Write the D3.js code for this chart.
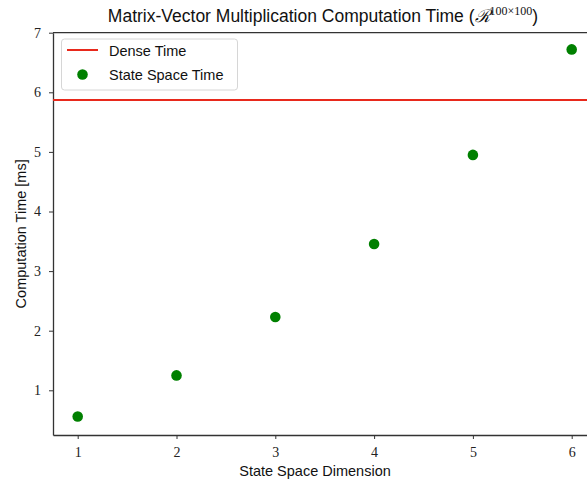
<!DOCTYPE html>
<html>
<head>
<meta charset="utf-8">
<script src="https://cdn.jsdelivr.net/npm/d3@7"></script>
<style>
  html, body { margin: 0; padding: 0; background: #fff; }
  svg { display: block; }
</style>
</head>
<body>
<div id="chart"></div>
<script>
// State space dimension vs. time for one matrix-vector product
const dimensions = [1, 2, 3, 4, 5, 6];
const stateSpaceTimes = [0.56, 1.25, 2.23, 3.455, 4.95, 6.72];
const denseTime = 5.87;
const xTicks = [1, 2, 3, 4, 5, 6];
const yTicks = [1, 2, 3, 4, 5, 6, 7];
const legendLabels = ["Dense Time", "State Space Time"];

const W = 587, H = 482;
const margin = { left: 53, top: 32.7, right: -9.4, bottom: 47 };
const green = "#008000", red = "#e8291c", axisColor = "#333";

const svg = d3.select("#chart").append("svg")
  .attr("width", W).attr("height", H);

const x = d3.scaleLinear().domain([0.75, 6.25])
  .range([margin.left, W - margin.right]);
const y = d3.scaleLinear().domain([0.25, 7])
  .range([H - margin.bottom, margin.top]);

const serif = "'Liberation Serif', 'DejaVu Serif', serif";
const sans = "'Liberation Sans', Arial, sans-serif";

// Axes
const xAxis = svg.append("g")
  .attr("transform", `translate(0,${H - margin.bottom})`)
  .call(d3.axisBottom(x).tickValues(xTicks).tickSizeInner(4).tickSizeOuter(0)
    .tickPadding(8).tickFormat(d3.format("d")));
const yAxis = svg.append("g")
  .attr("transform", `translate(${margin.left},0)`)
  .call(d3.axisLeft(y).tickValues(yTicks).tickSizeInner(4).tickSizeOuter(0)
    .tickPadding(8).tickFormat(d3.format("d")));

[xAxis, yAxis].forEach(g => {
  g.select(".domain").attr("stroke", axisColor).attr("stroke-width", 1.3);
  g.selectAll(".tick line").attr("stroke", axisColor).attr("stroke-width", 1);
  g.selectAll(".tick text").attr("fill", "#222")
    .style("font-family", serif).style("font-size", "14px");
});

// Top spine
svg.append("line")
  .attr("x1", margin.left).attr("x2", W - margin.right)
  .attr("y1", y(7)).attr("y2", y(7))
  .attr("stroke", axisColor).attr("stroke-width", 1.3);

// Dense reference line
svg.append("line")
  .attr("x1", margin.left).attr("x2", W - margin.right)
  .attr("y1", y(denseTime)).attr("y2", y(denseTime))
  .attr("stroke", red).attr("stroke-width", 2);

// State space points
svg.append("g").selectAll("circle")
  .data(dimensions.map((d, i) => ({ d, t: stateSpaceTimes[i] })))
  .join("circle")
  .attr("cx", p => x(p.d)).attr("cy", p => y(p.t))
  .attr("r", 5.3).attr("fill", green);

// Title
const title = svg.append("text")
  .attr("x", 323).attr("y", 22)
  .attr("text-anchor", "middle")
  .style("font-family", sans).style("font-size", "17.5px").attr("fill", "#111");
title.append("tspan").text("Matrix-Vector Multiplication Computation Time (");
title.append("tspan").style("font-family", serif).style("font-style", "italic").text("\u211B");
title.append("tspan").attr("dy", -7).style("font-family", serif).style("font-size", "12px").text("100\u00D7100");
title.append("tspan").attr("dy", 7).text(")");

// Axis labels
svg.append("text")
  .attr("x", 315).attr("y", 476)
  .attr("text-anchor", "middle")
  .style("font-family", sans).style("font-size", "14.5px").attr("fill", "#111")
  .text("State Space Dimension");
svg.append("text")
  .attr("transform", `translate(26,${(margin.top + H - margin.bottom) / 2}) rotate(-90)`)
  .attr("text-anchor", "middle")
  .style("font-family", sans).style("font-size", "14.5px").attr("fill", "#111")
  .text("Computation Time [ms]");

// Legend
const lg = svg.append("g");
lg.append("rect")
  .attr("x", 61.5).attr("y", 39).attr("width", 176).attr("height", 51)
  .attr("rx", 3).attr("fill", "#fff").attr("fill-opacity", 0.8)
  .attr("stroke", "#d6d6d6").attr("stroke-width", 1);
lg.append("line")
  .attr("x1", 67).attr("x2", 98).attr("y1", 50).attr("y2", 50)
  .attr("stroke", red).attr("stroke-width", 2);
lg.append("circle").attr("cx", 82.5).attr("cy", 74.5).attr("r", 5.3).attr("fill", green);
lg.selectAll("text.lab").data(legendLabels).join("text")
  .attr("class", "lab")
  .attr("x", 109).attr("y", (d, i) => 55.5 + i * 24)
  .style("font-family", sans).style("font-size", "14.5px").attr("fill", "#111")
  .text(d => d);
</script>
</body>
</html>
